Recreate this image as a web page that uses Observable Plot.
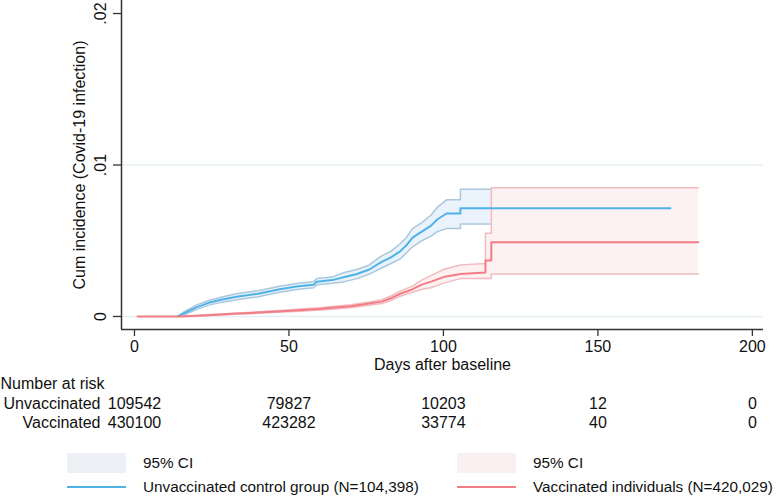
<!DOCTYPE html>
<html>
<head>
<meta charset="utf-8">
<script src="https://cdn.jsdelivr.net/npm/d3@7"></script>
<script src="https://cdn.jsdelivr.net/npm/@observablehq/plot@0.6"></script>
<style>
  html, body { margin: 0; padding: 0; background: #fff; }
  body { width: 778px; height: 496px; overflow: hidden; font-family: "Liberation Sans", Arial, sans-serif; color: #111; }
  #legend { position: relative; width: 778px; height: 50px; font-size: 15.3px; }
  #legend .box { position: absolute; width: 59px; height: 20px; }
  #legend .ln { position: absolute; width: 59px; height: 2px; }
  #legend .t { position: absolute; line-height: 20px; white-space: nowrap; }
</style>
</head>
<body>
<div id="chart"></div>
<div id="legend"></div>
<script>
// ---- Data ----
const xTicks = [0, 50, 100, 150, 200];
const yTicks = [0, 0.01, 0.02];
const yTickLabels = ["0", ".01", ".02"];

// Unvaccinated control group: cumulative incidence (repeated day = step)
const unvDays = [14, 16, 20, 24, 28, 33, 40, 47, 53, 58, 59, 64, 68, 72, 76, 80, 83, 86, 88, 90, 93, 96, 98, 101, 105.5, 105.5, 173.5];
const unvEst  = [0, 0.0002, 0.0006, 0.0009, 0.0011, 0.0013, 0.0015, 0.0018, 0.0020, 0.0021, 0.0023, 0.0024, 0.0026, 0.0028, 0.0031, 0.0036, 0.0039, 0.0043, 0.0047, 0.0052, 0.0056, 0.0060, 0.0064, 0.0068, 0.0068, 0.00715, 0.00715];
// Unvaccinated 95% CI
const unvCIDays = [14, 16, 20, 24, 28, 33, 40, 47, 53, 58, 59, 64, 68, 72, 76, 80, 83, 86, 88, 90, 93, 96, 98, 101, 105.5, 105.5, 115.5];
const unvLo     = [0, 0.0001, 0.00045, 0.00075, 0.00093, 0.0011, 0.0013, 0.0016, 0.0018, 0.0019, 0.0021, 0.0022, 0.0023, 0.0025, 0.0028, 0.0032, 0.0035, 0.0038, 0.0042, 0.0046, 0.0050, 0.0053, 0.0056, 0.0058, 0.0058, 0.0061, 0.0061];
const unvHi     = [0, 0.0003, 0.00075, 0.00105, 0.00127, 0.0015, 0.0017, 0.0020, 0.0022, 0.0023, 0.0025, 0.0026, 0.0029, 0.0031, 0.0034, 0.0040, 0.0043, 0.0048, 0.0052, 0.0058, 0.0062, 0.0067, 0.0072, 0.0077, 0.0077, 0.0084, 0.0084];

// Vaccinated individuals: cumulative incidence (repeated day = step)
const vacDays = [1, 15, 20, 25, 32, 40, 48, 54, 60, 64, 70, 76, 80, 83, 86, 90, 93, 96, 100, 105.5, 113.6, 113.6, 115.5, 115.5, 182.5];
const vacEst  = [0, 0, 0.00004, 0.0001, 0.00018, 0.00026, 0.00035, 0.00042, 0.0005, 0.00057, 0.00068, 0.00085, 0.00098, 0.0012, 0.0015, 0.0018, 0.0021, 0.0023, 0.0026, 0.0028, 0.0029, 0.0037, 0.0037, 0.0049, 0.0049];
// Vaccinated 95% CI
const vacCIDays = [15, 20, 25, 32, 40, 48, 54, 60, 64, 70, 76, 80, 83, 86, 90, 93, 96, 100, 105.5, 113.6, 113.6, 115.5, 115.5, 182.5];
const vacLo     = [0, 0.00002, 0.00007, 0.00014, 0.00021, 0.00029, 0.00035, 0.00042, 0.00048, 0.00058, 0.00074, 0.00086, 0.00105, 0.00133, 0.0016, 0.0018, 0.0019, 0.0022, 0.0025, 0.0025, 0.0025, 0.0025, 0.0028, 0.0028];
const vacHi     = [0, 0.00006, 0.00013, 0.00022, 0.00031, 0.00041, 0.00049, 0.00058, 0.00066, 0.00078, 0.00096, 0.0011, 0.00135, 0.00167, 0.0020, 0.0024, 0.0027, 0.0031, 0.0034, 0.0035, 0.0055, 0.0055, 0.0085, 0.0085];

// Number at risk table
const riskDays = [0, 50, 100, 150, 200];
const riskUnvaccinated = [109542, 79827, 10203, 12, 0];
const riskVaccinated = [430100, 423282, 33774, 40, 0];

// ---- Tables built from the arrays ----
const unvCI = unvCIDays.map((d, i) => ({day: d, lo: unvLo[i], hi: unvHi[i]}));
const unvLine = unvDays.map((d, i) => ({day: d, v: unvEst[i]}));
const vacCI = vacCIDays.map((d, i) => ({day: d, lo: vacLo[i], hi: vacHi[i]}));
const vacLine = vacDays.map((d, i) => ({day: d, v: vacEst[i]}));
const riskRows = riskDays.flatMap((d, i) => [
  {day: d, row: 0, n: riskUnvaccinated[i]},
  {day: d, row: 1, n: riskVaccinated[i]}
]);

const xDomain = [-4.2, 203.6];
const yDomain = [-0.00086, 0.02086];

const blueLine = "#4fb2e7", blueFill = "#eaf3fb", blueEdge = "#abc7dd";
const redLine = "#f27d86", redFill = "#fdeff0", redEdge = "#f0bcc1";
const font = "Liberation Sans, Arial, sans-serif";
const fs = 16;

const chart = Plot.plot({
  width: 778,
  height: 446,
  marginLeft: 121,
  marginRight: 15,
  marginTop: 0,
  marginBottom: 117,
  style: {fontFamily: font, fontSize: fs + "px", background: "#fff", color: "#111", overflow: "visible"},
  x: {domain: xDomain, axis: null},
  y: {domain: yDomain, axis: null},
  marks: [
    Plot.ruleY([0, 0.01], {stroke: "#e5eff3", strokeWidth: 1.5}),
    // blue CI
    Plot.areaY(unvCI, {x: "day", y1: "lo", y2: "hi", fill: blueFill}),
    Plot.line(unvCI, {x: "day", y: "lo", stroke: blueEdge, strokeWidth: 1.5}),
    Plot.line(unvCI, {x: "day", y: "hi", stroke: blueEdge, strokeWidth: 1.5}),
    // red CI
    Plot.areaY(vacCI, {x: "day", y1: "lo", y2: "hi", fill: redFill, fillOpacity: 0.9}),
    Plot.line(vacCI, {x: "day", y: "lo", stroke: redEdge, strokeWidth: 1.5}),
    Plot.line(vacCI, {x: "day", y: "hi", stroke: redEdge, strokeWidth: 1.5}),
    // estimates
    Plot.line(unvLine, {x: "day", y: "v", stroke: blueLine, strokeWidth: 2}),
    Plot.line(vacLine, {x: "day", y: "v", stroke: redLine, strokeWidth: 2}),
    // axes lines
    Plot.ruleX([xDomain[0]], {stroke: "#333", strokeWidth: 1.5}),
    Plot.ruleY([yDomain[0]], {stroke: "#333", strokeWidth: 1.5}),
    // y ticks + labels
    Plot.axisY({ticks: yTicks, tickSize: 8, tickFormat: () => "", label: null, stroke: "#333", strokeWidth: 1.3}),
    Plot.text(yTicks, {y: d => d, text: (d, i) => yTickLabels[i], frameAnchor: "left", textAnchor: "middle", dx: -21, rotate: -90, fontSize: fs, fill: "#111"}),
    Plot.text(["Cum incidence (Covid-19 infection)"], {frameAnchor: "left", textAnchor: "middle", dx: -42, rotate: -90, fontSize: fs, fill: "#111"}),
    // x ticks + labels
    Plot.axisX({ticks: xTicks, tickSize: 7, tickFormat: () => "", label: null, stroke: "#333", strokeWidth: 1.3}),
    Plot.text(xTicks, {x: d => d, text: d => String(d), frameAnchor: "bottom", dy: 22, fontSize: fs, fill: "#111"}),
    Plot.text(["Days after baseline"], {frameAnchor: "bottom", dy: 40, fontSize: fs, fill: "#111"}),
    // number at risk
    Plot.text(["Number at risk"], {frameAnchor: "bottom-left", dx: -121, dy: 59, textAnchor: "start", fontSize: fs, fill: "#111"}),
    Plot.text(["Unvaccinated"], {frameAnchor: "bottom-left", dx: -21, dy: 79, textAnchor: "end", fontSize: fs, fill: "#111"}),
    Plot.text(["Vaccinated"], {frameAnchor: "bottom-left", dx: -21, dy: 98, textAnchor: "end", fontSize: fs, fill: "#111"}),
    Plot.text(riskRows.filter(r => r.row === 0), {x: "day", text: d => String(d.n), frameAnchor: "bottom", dy: 79, fontSize: fs, fill: "#111"}),
    Plot.text(riskRows.filter(r => r.row === 1), {x: "day", text: d => String(d.n), frameAnchor: "bottom", dy: 98, fontSize: fs, fill: "#111"})
  ]
});
document.getElementById("chart").appendChild(chart);

// ---- Legend ----
const legendItems = [
  {x: 67, tx: 143, kind: "box", color: "#edf1f6", label: "95% CI", y: 17},
  {x: 67, tx: 143, kind: "line", color: blueLine, label: "Unvaccinated control group (N=104,398)", y: 41},
  {x: 457, tx: 533, kind: "box", color: "#fbf0f1", label: "95% CI", y: 17},
  {x: 457, tx: 533, kind: "line", color: redLine, label: "Vaccinated individuals (N=420,029)", y: 41}
];
const legend = document.getElementById("legend");
for (const it of legendItems) {
  const sw = document.createElement("div");
  if (it.kind === "box") {
    sw.className = "box";
    sw.style.left = it.x + "px";
    sw.style.top = (it.y - 10) + "px";
  } else {
    sw.className = "ln";
    sw.style.left = it.x + "px";
    sw.style.top = (it.y - 1) + "px";
  }
  sw.style.background = it.color;
  legend.appendChild(sw);
  const t = document.createElement("div");
  t.className = "t";
  t.style.left = it.tx + "px";
  t.style.top = (it.y - 10) + "px";
  t.textContent = it.label;
  legend.appendChild(t);
}
</script>
</body>
</html>
